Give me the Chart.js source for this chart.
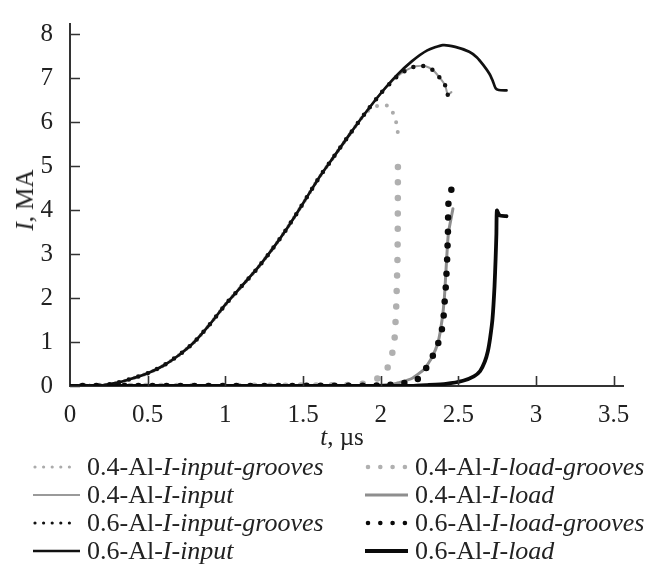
<!DOCTYPE html>
<html>
<head>
<meta charset="utf-8">
<script src="https://cdn.jsdelivr.net/npm/chart.js@4.4.1/dist/chart.umd.min.js"></script>
<style>
  html, body { margin: 0; padding: 0; background: #fff; }
  #wrap { position: relative; width: 655px; height: 564px; overflow: hidden; font-family: 'Liberation Serif', 'Times New Roman', serif; color: #222; }
  #wrap canvas { position: absolute; left: 0; top: 0; }
  .ytitle { position: absolute; left: 25px; top: 200px; font-size: 25px; white-space: nowrap; transform: translate(-50%, -50%) rotate(-90deg); }
  .xtitle { position: absolute; left: 342px; top: 437px; font-size: 25px; white-space: nowrap; transform: translate(-50%, -50%); }
  .item { position: absolute; height: 28px; display: flex; align-items: center; white-space: nowrap; font-size: 26px; }
  .item svg { flex: none; }
  .item span { margin-left: 7px; }
</style>
</head>
<body>
<div id="wrap">
  <canvas id="chart" width="655" height="564"></canvas>
  <div class="ytitle"><i>I</i>, MA</div>
  <div class="xtitle"><i>t</i>, µs</div>
  <div id="legend"></div>
</div>
<script>
// values: t in µs, I in MA
const xTicks = [0, 0.5, 1, 1.5, 2, 2.5, 3, 3.5];
const yTicks = [0, 1, 2, 3, 4, 5, 6, 7, 8];

// 0.6-Al-I-input
const t06Input = [0, 0.15, 0.2, 0.3, 0.4, 0.5, 0.6, 0.7, 0.8, 0.9, 1.0, 1.1, 1.2, 1.3, 1.4, 1.5, 1.6, 1.7, 1.8, 1.9, 2.0, 2.1, 2.2, 2.3, 2.4, 2.48, 2.57, 2.62, 2.66, 2.7, 2.72, 2.74, 2.76, 2.81];
const i06Input = [0, 0, 0.01, 0.07, 0.17, 0.29, 0.46, 0.70, 1.0, 1.4, 1.85, 2.25, 2.65, 3.1, 3.6, 4.15, 4.72, 5.22, 5.72, 6.2, 6.65, 7.05, 7.38, 7.63, 7.75, 7.71, 7.6, 7.47, 7.3, 7.1, 6.95, 6.77, 6.73, 6.72];

// 0.6-Al-I-input-grooves
const t06InputGr = [0, 0.15, 0.2, 0.3, 0.4, 0.5, 0.6, 0.7, 0.8, 0.9, 1.0, 1.1, 1.2, 1.3, 1.4, 1.5, 1.6, 1.7, 1.8, 1.9, 2.0, 2.1, 2.165, 2.225, 2.29, 2.34, 2.38, 2.416, 2.432];
const i06InputGr = [0, 0, 0.01, 0.07, 0.17, 0.29, 0.46, 0.70, 1.0, 1.4, 1.85, 2.25, 2.65, 3.1, 3.6, 4.15, 4.72, 5.22, 5.72, 6.2, 6.65, 7.02, 7.18, 7.27, 7.27, 7.17, 7.01, 6.83, 6.62];

// 0.4-Al-I-input
const t04Input = [0, 0.15, 0.2, 0.3, 0.4, 0.5, 0.6, 0.7, 0.8, 0.9, 1.0, 1.1, 1.2, 1.3, 1.4, 1.5, 1.6, 1.7, 1.8, 1.9, 2.0, 2.1, 2.165, 2.225, 2.29, 2.34, 2.38, 2.416, 2.432, 2.455];
const i04Input = [0, 0, 0.01, 0.07, 0.17, 0.29, 0.46, 0.70, 1.0, 1.4, 1.85, 2.25, 2.65, 3.1, 3.6, 4.15, 4.72, 5.22, 5.72, 6.2, 6.65, 7.02, 7.18, 7.27, 7.27, 7.17, 7.01, 6.83, 6.62, 6.68];

// 0.4-Al-I-input-grooves
const t04InputGr = [0, 0.15, 0.2, 0.3, 0.4, 0.5, 0.6, 0.7, 0.8, 0.9, 1.0, 1.1, 1.2, 1.3, 1.4, 1.5, 1.6, 1.7, 1.8, 1.9, 1.93, 1.98, 2.05, 2.08, 2.1, 2.11];
const i04InputGr = [0, 0, 0.01, 0.07, 0.17, 0.29, 0.46, 0.70, 1.0, 1.4, 1.85, 2.25, 2.65, 3.1, 3.6, 4.15, 4.72, 5.22, 5.72, 6.2, 6.28, 6.37, 6.37, 6.2, 5.99, 5.77];

// 0.4-Al-I-load-grooves
const t04LoadGr = [0, 0.5, 1.0, 1.5, 1.74, 1.84, 1.93, 2.006, 2.053, 2.075, 2.09, 2.1, 2.108, 2.11, 2.111];
const i04LoadGr = [0, 0, 0, 0.01, 0.02, 0.03, 0.085, 0.23, 0.47, 0.75, 1.1, 1.8, 2.86, 3.6, 4.98];

// 0.4-Al-I-load
const t04Load = [0, 1.9, 2.0, 2.1, 2.2, 2.28, 2.33, 2.37, 2.395, 2.41, 2.42, 2.43, 2.437, 2.465];
const i04Load = [0, 0, 0.02, 0.06, 0.17, 0.38, 0.65, 1.0, 1.5, 2.0, 2.6, 3.2, 3.5, 4.03];

// 0.6-Al-I-load-grooves
const t06LoadGr = [0, 1.0, 2.0, 2.12, 2.18, 2.24, 2.315, 2.37, 2.40, 2.41, 2.42, 2.428, 2.433, 2.436, 2.455];
const i06LoadGr = [0, 0, 0.01, 0.05, 0.085, 0.16, 0.53, 0.97, 1.38, 1.83, 2.3, 2.9, 3.5, 4.14, 4.46];

// 0.6-Al-I-load
const t06Load = [0, 2.2, 2.3, 2.42, 2.53, 2.6, 2.64, 2.67, 2.69, 2.705, 2.72, 2.733, 2.74, 2.745, 2.748, 2.765, 2.81];
const i06Load = [0, 0, 0.02, 0.05, 0.12, 0.22, 0.34, 0.55, 0.79, 1.1, 1.53, 2.27, 2.9, 3.46, 3.99, 3.88, 3.86];

function pts(ts, is) {
    return ts.map(function(t, k) { return { x: t, y: is[k] }; });
}

const serif = "'Liberation Serif', 'Times New Roman', serif";

const ds04InputGr = { label: '0.4-Al-I-input-grooves', data: pts(t04InputGr, i04InputGr), borderColor: '#ababab', borderWidth: 4, borderDash: [0, 10], tension: 0.2, order: 6, dots: 'small' };
const ds04LoadGr = { label: '0.4-Al-I-load-grooves', data: pts(t04LoadGr, i04LoadGr), borderColor: '#b0b0b0', borderWidth: 6.5, borderDash: [0, 15.5], tension: 0.15, order: 5, dots: 'big' };
const ds04Input = { label: '0.4-Al-I-input', data: pts(t04Input, i04Input), borderColor: '#9a9a9a', borderWidth: 2, tension: 0.2, order: 8 };
const ds04Load = { label: '0.4-Al-I-load', data: pts(t04Load, i04Load), borderColor: '#8e8e8e', borderWidth: 3, tension: 0.15, order: 7 };
const ds06InputGr = { label: '0.6-Al-I-input-grooves', data: pts(t06InputGr, i06InputGr), borderColor: '#111', borderWidth: 4.5, borderDash: [0, 10], tension: 0.2, order: 2, dots: 'small' };
const ds06LoadGr = { label: '0.6-Al-I-load-grooves', data: pts(t06LoadGr, i06LoadGr), borderColor: '#0a0a0a', borderWidth: 6.5, borderDash: [0, 14], tension: 0.15, order: 1, dots: 'big' };
const ds06Input = { label: '0.6-Al-I-input', data: pts(t06Input, i06Input), borderColor: '#111', borderWidth: 2.7, tension: 0.2, order: 3 };
const ds06Load = { label: '0.6-Al-I-load', data: pts(t06Load, i06Load), borderColor: '#0a0a0a', borderWidth: 3.8, tension: 0.15, order: 4 };

const datasets = [ds04InputGr, ds04LoadGr, ds04Input, ds04Load, ds06InputGr, ds06LoadGr, ds06Input, ds06Load];
datasets.forEach(function(d) {
    d.pointRadius = 0;
    d.fill = false;
    d.borderCapStyle = 'round';
    d.borderJoinStyle = 'round';
});

// tick marks point inside the plot
const innerTicks = {
    id: 'innerTicks',
    afterDatasetsDraw: function(chart) {
        const ctx = chart.ctx;
        const area = chart.chartArea;
        const xs = chart.scales.x, ys = chart.scales.y;
        ctx.save();
        ctx.strokeStyle = '#333';
        ctx.lineWidth = 1.6;
        ctx.beginPath();
        xs.ticks.forEach(function(tk) {
            if (tk.value === 0) return;
            const px = Math.round(xs.getPixelForValue(tk.value)) + 0.5;
            ctx.moveTo(px, area.bottom);
            ctx.lineTo(px, area.bottom - 10);
        });
        ys.ticks.forEach(function(tk) {
            const py = Math.round(ys.getPixelForValue(tk.value)) + 0.5;
            ctx.moveTo(area.left, py);
            ctx.lineTo(area.left + 10, py);
        });
        ctx.stroke();
        ctx.restore();
    }
};

const ctx = document.getElementById('chart').getContext('2d');
const chart = new Chart(ctx, {
    type: 'line',
    data: { datasets: datasets },
    options: {
        responsive: false,
        animation: false,
        events: [],
        layout: { padding: { top: 15, right: 32, bottom: 138, left: 0 } },
        plugins: { legend: { display: false }, tooltip: { enabled: false } },
        scales: {
            x: {
                type: 'linear',
                min: 0,
                max: 3.56,
                afterBuildTicks: function(scale) { scale.ticks = xTicks.map(function(v) { return { value: v }; }); },
                afterFit: function(scale) { scale.height = 40; },
                grid: { display: false },
                border: { display: true, color: '#333', width: 2 },
                ticks: { padding: 6, color: '#222', font: { family: serif, size: 25 }, maxRotation: 0,
                    callback: function(v) { return String(v); } }
            },
            y: {
                type: 'linear',
                min: 0,
                max: 8.23,
                afterBuildTicks: function(scale) { scale.ticks = yTicks.map(function(v) { return { value: v }; }); },
                afterFit: function(scale) { scale.width = 70; },
                grid: { display: false },
                border: { display: true, color: '#333', width: 2 },
                ticks: { padding: 9, color: '#222', font: { family: serif, size: 25 },
                    callback: function(v) { return String(v); } }
            }
        }
    },
    plugins: [innerTicks]
});

// shift each dotted pattern so that a dot sits on the last point
datasets.forEach(function(d, i) {
    if (!d.dots) return;
    const pts = chart.getDatasetMeta(i).data;
    let len = 0;
    for (let k = 1; k < pts.length; k++) {
        len += Math.hypot(pts[k].x - pts[k - 1].x, pts[k].y - pts[k - 1].y);
    }
    const gap = d.borderDash[1];
    d.borderDashOffset = gap - (len % gap);
});
chart.update();

// legend in two columns, with italic part of each name
const legendCols = [[ds04InputGr, ds04Input, ds06InputGr, ds06Input], [ds04LoadGr, ds04Load, ds06LoadGr, ds06Load]];
const colLeft = [33, 365];
const colSample = [47, 43];
const rowY = [467, 495, 523, 551];
const legendEl = document.getElementById('legend');
legendCols.forEach(function(col, c) {
    col.forEach(function(d, r) {
        const w = colSample[c];
        let line;
        if (d.dots === 'small') {
            line = '<line x1="2" y1="5" x2="' + (w - 2) + '" y2="5" stroke="' + d.borderColor + '" stroke-width="3.2" stroke-linecap="round" stroke-dasharray="0 8.6"/>';
        } else if (d.dots === 'big') {
            line = '<line x1="3" y1="5" x2="' + (w - 3) + '" y2="5" stroke="' + d.borderColor + '" stroke-width="4.6" stroke-linecap="round" stroke-dasharray="0 12.3"/>';
        } else {
            line = '<line x1="0" y1="5" x2="' + w + '" y2="5" stroke="' + d.borderColor + '" stroke-width="' + d.borderWidth + '"/>';
        }
        const k = d.label.indexOf('-I-') + 1;
        const item = document.createElement('div');
        item.className = 'item';
        item.style.left = colLeft[c] + 'px';
        item.style.top = (rowY[r] - 14) + 'px';
        item.innerHTML = '<svg width="' + w + '" height="10">' + line + '</svg><span>' + d.label.slice(0, k) + '<i>' + d.label.slice(k) + '</i></span>';
        legendEl.appendChild(item);
    });
});
</script>
</body>
</html>
